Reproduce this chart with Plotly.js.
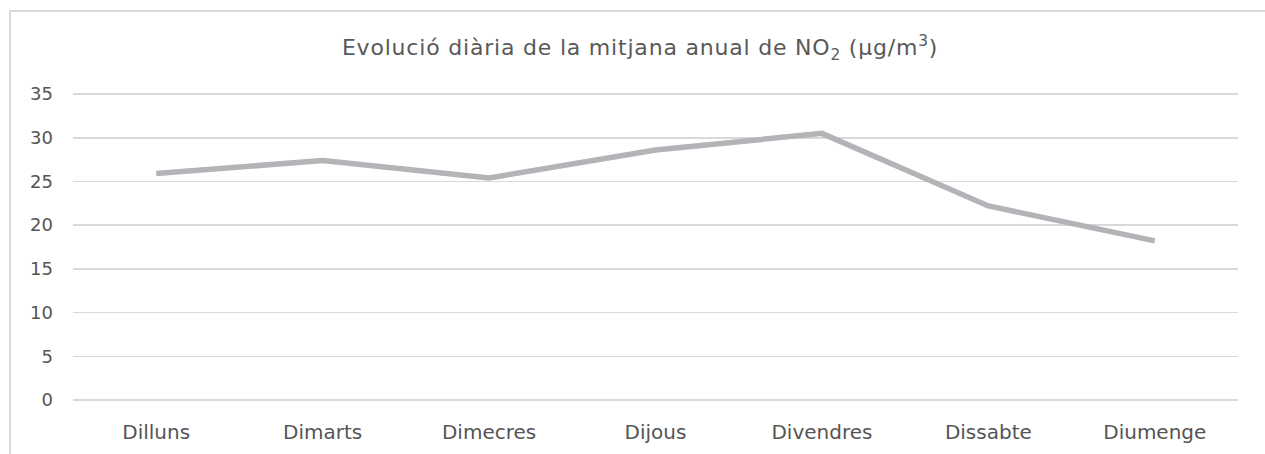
<!DOCTYPE html>
<html>
<head>
<meta charset="utf-8">
<script src="https://cdn.plot.ly/plotly-3.0.1.min.js"></script>
<style>
  html, body { margin: 0; padding: 0; background: #ffffff; }
  #frame { position: absolute; left: 9px; top: 10px; width: 1256px; height: 444px;
           border-left: 2px solid #d9d9d9; border-top: 2px solid #d9d9d9; box-sizing: border-box; }
  #chart { position: absolute; left: 0; top: 0; width: 1265px; height: 454px; }
  #chart .gtitle { letter-spacing: 0.8px; }
</style>
</head>
<body>
<div id="frame"></div>
<div id="chart"></div>
<script>
const days = ['Dilluns', 'Dimarts', 'Dimecres', 'Dijous', 'Divendres', 'Dissabte', 'Diumenge'];
const no2Values = [25.9, 27.4, 25.4, 28.6, 30.5, 22.2, 18.2];
const yTicks = [0, 5, 10, 15, 20, 25, 30, 35];

const fontFamily = 'DejaVu Sans, sans-serif';

Plotly.newPlot('chart', [{
  x: days,
  y: no2Values,
  type: 'scatter',
  mode: 'lines',
  line: { color: '#b4b4b8', width: 5.5 },
  hoverinfo: 'x+y',
}], {
  width: 1265,
  height: 454,
  paper_bgcolor: 'rgba(0,0,0,0)',
  plot_bgcolor: 'rgba(0,0,0,0)',
  margin: { l: 73, r: 27, t: 93, b: 53 },
  showlegend: false,
  font: { family: fontFamily, color: '#595959', size: 18 },
  title: {
    text: 'Evolució diària de la mitjana anual de NO<sub>2</sub> (µg/m<sup>3</sup>)',
    font: { family: fontFamily, size: 22, color: '#595959' },
    x: 0.506,
    xanchor: 'center',
    y: 0.895,
    yanchor: 'middle',
  },
  xaxis: {
    type: 'category',
    range: [-0.5, 6.5],
    showgrid: false,
    zeroline: false,
    showline: false,
    ticks: '',
    tickfont: { family: fontFamily, size: 20, color: '#555555' },
    ticklabelstandoff: 17,
  },
  yaxis: {
    range: [-0.12, 35.12],
    tickvals: yTicks,
    showgrid: true,
    gridcolor: '#d9d9d9',
    gridwidth: 1.5,
    zeroline: false,
    showline: false,
    ticks: '',
    tickfont: { family: fontFamily, size: 18, color: '#555555' },
    ticklabelstandoff: 19,
  },
}, {
  displayModeBar: false,
  staticPlot: true,
});
</script>
</body>
</html>
